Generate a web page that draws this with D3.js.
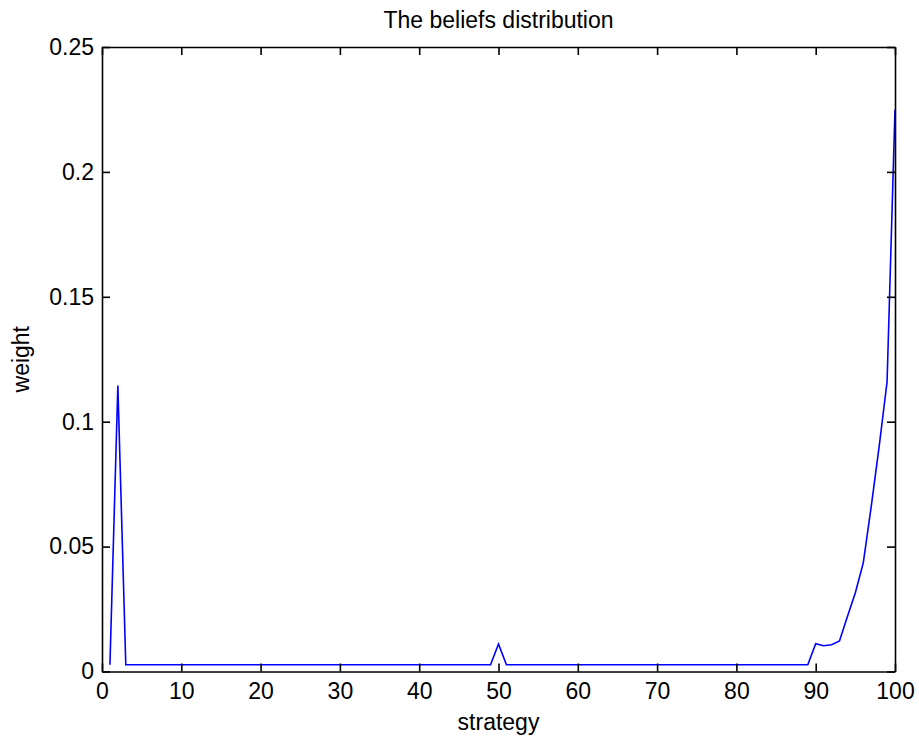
<!DOCTYPE html>
<html>
<head>
<meta charset="utf-8">
<script src="https://cdn.jsdelivr.net/npm/d3@7/dist/d3.min.js"></script>
<style>
  html, body { margin: 0; padding: 0; background: #fff; }
  svg { display: block; font-family: "Liberation Sans", Arial, Helvetica, sans-serif; }
</style>
</head>
<body>
<svg id="chart" width="919" height="738"></svg>
<script>
// strategies 1..100
const strategies = [
  1,2,3,4,5,6,7,8,9,10,11,12,13,14,15,16,17,18,19,20,
  21,22,23,24,25,26,27,28,29,30,31,32,33,34,35,36,37,38,39,40,
  41,42,43,44,45,46,47,48,49,50,51,52,53,54,55,56,57,58,59,60,
  61,62,63,64,65,66,67,68,69,70,71,72,73,74,75,76,77,78,79,80,
  81,82,83,84,85,86,87,88,89,90,91,92,93,94,95,96,97,98,99,100
];
const weights = [
  0.0027,0.1145,0.0027,0.0027,0.0027,0.0027,0.0027,0.0027,0.0027,0.0027,
  0.0027,0.0027,0.0027,0.0027,0.0027,0.0027,0.0027,0.0027,0.0027,0.0027,
  0.0027,0.0027,0.0027,0.0027,0.0027,0.0027,0.0027,0.0027,0.0027,0.0027,
  0.0027,0.0027,0.0027,0.0027,0.0027,0.0027,0.0027,0.0027,0.0027,0.0027,
  0.0027,0.0027,0.0027,0.0027,0.0027,0.0027,0.0027,0.0027,0.0027,0.0110,
  0.0027,0.0027,0.0027,0.0027,0.0027,0.0027,0.0027,0.0027,0.0027,0.0027,
  0.0027,0.0027,0.0027,0.0027,0.0027,0.0027,0.0027,0.0027,0.0027,0.0027,
  0.0027,0.0027,0.0027,0.0027,0.0027,0.0027,0.0027,0.0027,0.0027,0.0027,
  0.0027,0.0027,0.0027,0.0027,0.0027,0.0027,0.0027,0.0027,0.0027,0.0111,
  0.0103,0.0107,0.0122,0.0220,0.0315,0.0435,0.0660,0.0900,0.1160,0.2250
];
const xTicks = [0,10,20,30,40,50,60,70,80,90,100];
const yTicks = [0,0.05,0.1,0.15,0.2,0.25];
const yTickLabels = ["0","0.05","0.1","0.15","0.2","0.25"];
const titleText = "The beliefs distribution";
const xLabelText = "strategy";
const yLabelText = "weight";

const svg = d3.select("#chart");
const mLeft = 102, mRight = 895, mTop = 47, mBottom = 671.5;
const x = d3.scaleLinear().domain([0, 100]).range([mLeft, mRight]);
const y = d3.scaleLinear().domain([0, 0.25]).range([mBottom, mTop]);
const fs = 23;
const tickLen = 8;

// line
const line = d3.line().x((d, i) => x(strategies[i])).y(d => y(d));
svg.append("path")
  .datum(weights)
  .attr("d", line)
  .attr("fill", "none")
  .attr("stroke", "#0000ff")
  .attr("stroke-width", 1.6)
  .attr("stroke-linejoin", "miter");

// axes (MATLAB style: box with inward ticks)
const axB = d3.axisBottom(x).tickValues(xTicks).tickSizeInner(-tickLen).tickSizeOuter(0).tickPadding(11).tickFormat(d3.format("d"));
const axT = d3.axisTop(x).tickValues(xTicks).tickSizeInner(-tickLen).tickSizeOuter(0).tickFormat("");
const axL = d3.axisLeft(y).tickValues(yTicks).tickSizeInner(-tickLen).tickSizeOuter(0).tickPadding(8).tickFormat((d, i) => yTickLabels[i]);
const axR = d3.axisRight(y).tickValues(yTicks).tickSizeInner(-tickLen).tickSizeOuter(0).tickFormat("");

function style(g) {
  g.selectAll("path.domain").attr("stroke", "#000").attr("stroke-width", 1.6);
  g.selectAll(".tick line").attr("stroke", "#000").attr("stroke-width", 1.6);
  g.selectAll(".tick text").attr("fill", "#000").style("font-size", fs + "px");
  g.attr("font-family", null);
}
svg.append("g").attr("transform", `translate(0,${mBottom})`).call(axB).call(style);
svg.append("g").attr("transform", `translate(0,${mTop})`).call(axT).call(style);
svg.append("g").attr("transform", `translate(${mLeft},0)`).call(axL).call(style);
svg.append("g").attr("transform", `translate(${mRight},0)`).call(axR).call(style);

// title & labels
svg.append("text").attr("x", (mLeft + mRight) / 2).attr("y", 28)
  .attr("text-anchor", "middle").style("font-size", fs + "px").text(titleText);
svg.append("text").attr("x", (mLeft + mRight) / 2).attr("y", 730)
  .attr("text-anchor", "middle").style("font-size", fs + "px").text(xLabelText);
svg.append("text").attr("transform", `translate(29,${(mTop + mBottom) / 2}) rotate(-90)`)
  .attr("text-anchor", "middle").style("font-size", fs + "px").text(yLabelText);
</script>
</body>
</html>
